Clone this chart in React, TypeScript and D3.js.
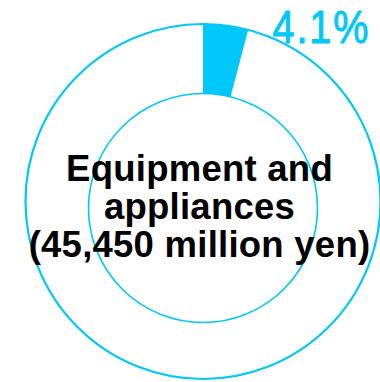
import React from "react";
import * as d3 from "d3";

const categories = ["Equipment and appliances", "Other"];
const shares = [4.1, 95.9];
const labelLines = ["Equipment and", "appliances", "(45,450 million yen)"];
const pctLabel = "4.1%";

const CYAN = "#00c8fa";

export default function App() {
  const W = 380, H = 382;
  const cx = 203, cy = 201.5;
  const rOuter = 177.5;
  const innerCx = 203, innerCy = 208, rInner = 114.5;

  const pie = d3.pie<number>().sort(null).value((d) => d)(shares);
  const arc = d3.arc<d3.PieArcDatum<number>>().innerRadius(108).outerRadius(rOuter);

  return (
    <svg width={W} height={H} style={{ position: "absolute", left: 0, top: 0 }}>
      <rect width={W} height={H} fill="#fff" />
      <path d={arc(pie[0]) || ""} transform={`translate(${cx},${cy})`} fill={CYAN} />
      <circle cx={cx} cy={cy} r={rOuter} fill="none" stroke={CYAN} strokeWidth={2.2} />
      <circle cx={innerCx} cy={innerCy} r={rInner} fill="#fff" stroke={CYAN} strokeWidth={1.6} />
      <g transform="translate(272.5,42.5) scale(0.86,1)">
        <text x={0} y={0} textLength={111.6} lengthAdjust="spacing" fill={CYAN}
          stroke={CYAN} strokeWidth={1}
          style={{ fontFamily: "Liberation Sans, Arial, sans-serif", fontSize: 46 }}>
          {pctLabel}
        </text>
      </g>
      {labelLines.map((l, i) => (
        <text key={i} x={199.5} y={181 + i * 38} textAnchor="middle" fill="#000"
          style={{ fontFamily: "Liberation Sans, Arial, sans-serif", fontSize: 36.5, fontWeight: "bold", letterSpacing: 0.25 }}>
          {l}
        </text>
      ))}
    </svg>
  );
}
